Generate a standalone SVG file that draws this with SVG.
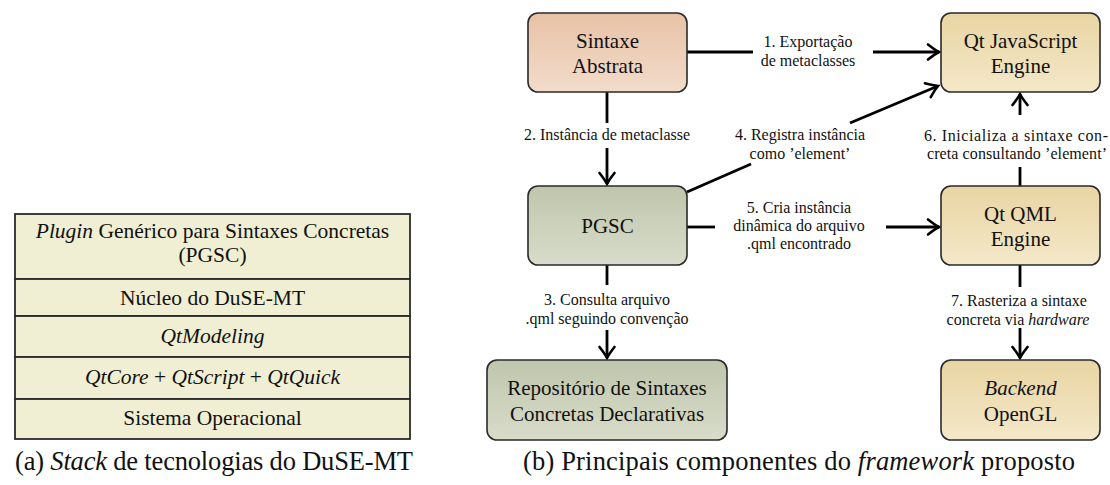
<svg xmlns="http://www.w3.org/2000/svg" width="1110" height="485" viewBox="0 0 1110 485">
<style>
text{font-family:"Liberation Serif","Times New Roman",serif;fill:#111;}
.row{fill:#f0efd3;stroke:#2a2a2a;stroke-width:1.8;}
.rt{font-size:21.5px;text-anchor:middle;}
.box{stroke:#2a2a2a;stroke-width:1.6;}
.bt{font-size:21px;text-anchor:middle;}
.lt{font-size:16px;text-anchor:middle;}
.cap{font-size:26.5px;}
.it{font-style:italic;}
.ln{stroke:#000;stroke-width:2.8;fill:none;}
.ar{stroke:#000;stroke-width:2.8;fill:none;marker-end:url(#ah);}
</style>
<defs>
<linearGradient id="gPeach" x1="0" y1="0" x2="0" y2="1"><stop offset="0" stop-color="#e8c2a6"/><stop offset="1" stop-color="#f2dccb"/></linearGradient>
<linearGradient id="gGreen" x1="0" y1="0" x2="0" y2="1"><stop offset="0" stop-color="#bfc6ac"/><stop offset="1" stop-color="#d8dcca"/></linearGradient>
<linearGradient id="gYel" x1="0" y1="0" x2="0" y2="1"><stop offset="0" stop-color="#e9d5a3"/><stop offset="1" stop-color="#f4e8c9"/></linearGradient>
<marker id="ah" markerUnits="userSpaceOnUse" viewBox="-14 -10 16 20" refX="0" refY="0" markerWidth="16" markerHeight="20" orient="auto" overflow="visible">
<path d="M-11,-7.5 Q-4,-2 0,0 Q-4,2 -11,7.5" fill="none" stroke="#000" stroke-width="2.6" stroke-linecap="round"/>
</marker>
</defs>

<g id="stack">
<g id="row-pgsc"><rect class="row" x="15" y="214" width="395" height="65"/>
<text class="rt" x="212.5" y="238"><tspan class="it">Plugin</tspan> Genérico para Sintaxes Concretas</text>
<text class="rt" x="212.5" y="262">(PGSC)</text></g>
<g id="row-nucleo"><rect class="row" x="15" y="279" width="395" height="37"/>
<text class="rt" x="212.5" y="305">Núcleo do DuSE-MT</text></g>
<g id="row-qtmodeling"><rect class="row" x="15" y="316" width="395" height="41"/>
<text class="rt it" x="212.5" y="343">QtModeling</text></g>
<g id="row-qtcore"><rect class="row" x="15" y="357" width="395" height="42"/>
<text class="rt" x="212.5" y="384"><tspan class="it">QtCore</tspan> + <tspan class="it">QtScript</tspan> + <tspan class="it">QtQuick</tspan></text></g>
<g id="row-so"><rect class="row" x="15" y="399" width="395" height="40"/>
<text class="rt" x="212.5" y="425">Sistema Operacional</text></g>
</g>

<g id="connectors">
<line class="ln" x1="687" y1="52" x2="753" y2="52"/>
<line class="ar" x1="873" y1="52" x2="939" y2="52"/>
<line class="ln" x1="607" y1="92" x2="607" y2="123"/>
<line class="ar" x1="607" y1="148" x2="607" y2="184"/>
<line class="ln" x1="607" y1="265" x2="607" y2="285"/>
<line class="ar" x1="607" y1="330" x2="607" y2="358"/>
<line class="ln" x1="687" y1="192" x2="751" y2="164"/>
<line class="ar" x1="850" y1="123" x2="938" y2="86"/>
<line class="ln" x1="687" y1="227" x2="715" y2="227"/>
<line class="ar" x1="886" y1="227" x2="939" y2="227"/>
<line class="ln" x1="1020" y1="186" x2="1020" y2="167"/>
<line class="ar" x1="1020" y1="115" x2="1020" y2="94"/>
<line class="ln" x1="1020" y1="265" x2="1020" y2="287"/>
<line class="ar" x1="1020" y1="328" x2="1020" y2="358"/>
<text class="lt" x="808" y="47">1. Exportação</text>
<text class="lt" x="808" y="66">de metaclasses</text>
<text class="lt" x="607" y="140">2. Instância de metaclasse</text>
<text class="lt" x="607" y="305">3. Consulta arquivo</text>
<text class="lt" x="607" y="324">.qml seguindo convenção</text>
<text class="lt" x="800" y="140">4. Registra instância</text>
<text class="lt" x="800" y="159">como ’element’</text>
<text class="lt" x="799" y="213">5. Cria instância</text>
<text class="lt" x="799" y="231">dinâmica do arquivo</text>
<text class="lt" x="799" y="249">.qml encontrado</text>
<text class="lt" x="1016" y="141" textLength="184" lengthAdjust="spacing">6. Inicializa a sintaxe con-</text>
<text class="lt" x="1017" y="159" textLength="180" lengthAdjust="spacing">creta consultando ’element’</text>
<text class="lt" x="1019" y="306">7. Rasteriza a sintaxe</text>
<text class="lt" x="1018" y="325">concreta via <tspan class="it">hardware</tspan></text>
</g>

<g id="sintaxe-abstrata"><rect class="box" x="528" y="13" width="159" height="79" rx="10" fill="url(#gPeach)"/>
<text class="bt" x="607.5" y="48">Sintaxe</text><text class="bt" x="607.5" y="73">Abstrata</text></g>
<g id="pgsc"><rect class="box" x="528" y="186" width="159" height="79" rx="10" fill="url(#gGreen)"/>
<text class="bt" x="607.5" y="233">PGSC</text></g>
<g id="repositorio"><rect class="box" x="487" y="360" width="240" height="80" rx="10" fill="url(#gGreen)"/>
<text class="bt" x="607" y="395">Repositório de Sintaxes</text><text class="bt" x="607" y="421">Concretas Declarativas</text></g>
<g id="qt-js"><rect class="box" x="941" y="13" width="159" height="79" rx="10" fill="url(#gYel)"/>
<text class="bt" x="1020.5" y="48">Qt JavaScript</text><text class="bt" x="1020.5" y="73">Engine</text></g>
<g id="qt-qml"><rect class="box" x="941" y="186" width="159" height="79" rx="10" fill="url(#gYel)"/>
<text class="bt" x="1020.5" y="221">Qt QML</text><text class="bt" x="1020.5" y="246">Engine</text></g>
<g id="backend"><rect class="box" x="941" y="360" width="159" height="80" rx="10" fill="url(#gYel)"/>
<text class="bt" x="1020.5" y="395"><tspan class="it">Backend</tspan></text><text class="bt" x="1020.5" y="421">OpenGL</text></g>

<g id="captions">
<text class="cap" x="15" y="470" textLength="398" lengthAdjust="spacing">(a)  <tspan class="it">Stack</tspan> de tecnologias do DuSE-MT</text>
<text class="cap" x="523" y="470" textLength="552" lengthAdjust="spacing">(b)  Principais componentes do <tspan class="it">framework</tspan> proposto</text>
</g>
</svg>
